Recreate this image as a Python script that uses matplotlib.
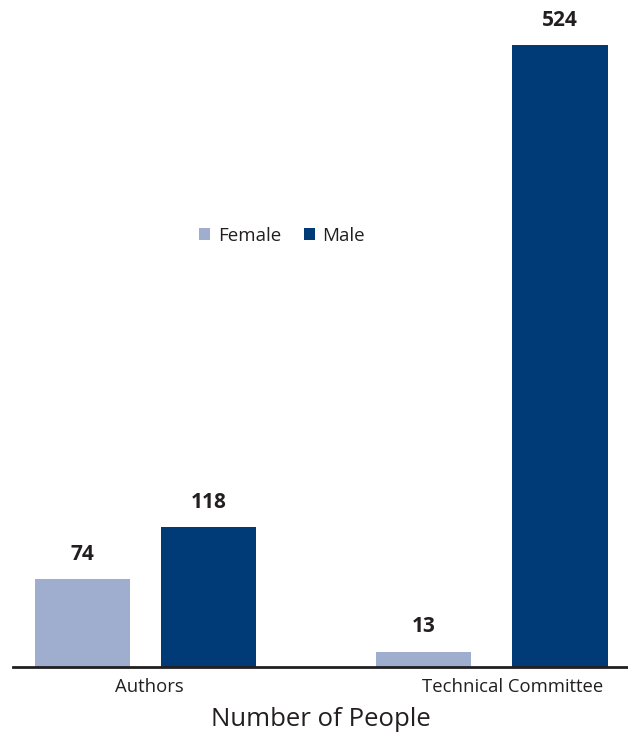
import numpy as np
import matplotlib
matplotlib.use('Agg')
import matplotlib.pyplot as plt

# Data
categories = ['Authors', 'Technical Committee']
female = [74, 13]
male = [118, 524]

plt.rcParams['font.family'] = ['Open Sans', 'DejaVu Sans']

female_color = '#9fadcf'
male_color = '#003b78'
text_color = '#231f20'

fig = plt.figure(figsize=(6.28, 7.34), dpi=100)
ax = fig.add_axes([13 / 628, 67 / 734, 615 / 628, 667 / 734])

x = np.arange(len(categories))
w = 0.277
off = np.array([0.182, 0.197])  # inner gap is a bit wider in the second group
bf = ax.bar(x - off, female, w, color=female_color, label='Female')
bm = ax.bar(x + off, male, w, color=male_color, label='Male')

for bars, vals in [(bf, female), (bm, male)]:
    for b, v in zip(bars, vals):
        ax.text(b.get_x() + b.get_width() / 2, v + 12, str(v), ha='center', va='bottom',
                fontsize=15, fontweight='bold', color=text_color)

ax.set_xlim(-0.383, 1.394)
ax.set_ylim(0, 562)
ax.set_xticks(x + np.array([0.01, 0.06]))
ax.set_xticklabels(categories, fontsize=13.3, color=text_color)
ax.tick_params(axis='x', length=0, pad=8)
ax.set_yticks([])
for s in ['top', 'right', 'left']:
    ax.spines[s].set_visible(False)
ax.spines['bottom'].set_color(text_color)
ax.spines['bottom'].set_linewidth(2)
ax.set_xlabel('Number of People', fontsize=18.5, color=text_color, labelpad=8)

fig.legend(handles=[bf, bm], loc='center', bbox_to_anchor=(282 / 628, 1 - 236 / 734), ncol=2,
           frameon=False, fontsize=13.5, handlelength=0.6, handleheight=0.6,
           handletextpad=0.4, columnspacing=1.2, labelcolor=text_color)

fig.savefig('out.png', dpi=100)
